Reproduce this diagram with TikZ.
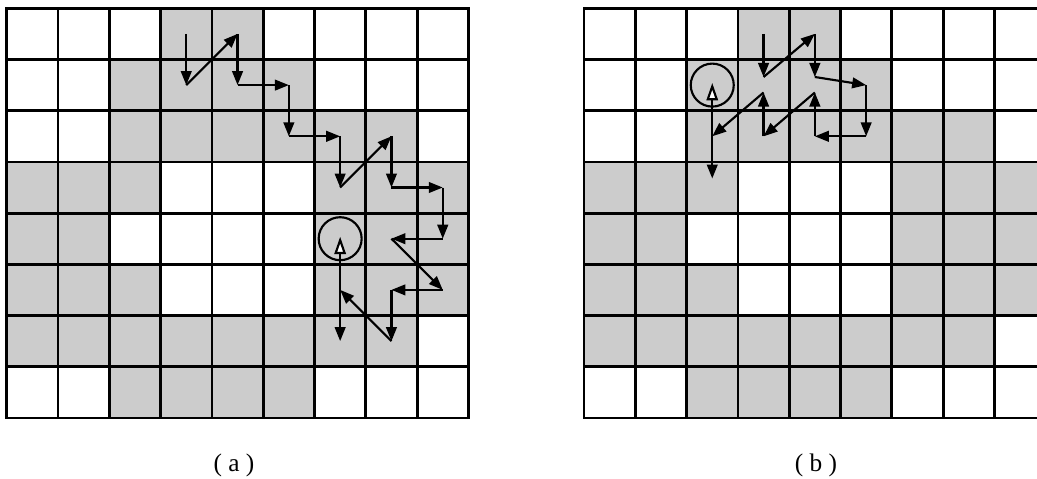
\documentclass[tikz,border=0pt]{standalone}
\usepackage{fontspec}
\setmainfont{Liberation Serif}
\usetikzlibrary{arrows.meta}
\definecolor{cellgray}{RGB}{204,204,204}
\tikzset{
  gridline/.style={line width=2.1pt, line cap=rect},
  walk/.style={line width=1.6pt, -{Triangle[length=10.5pt,width=8pt]}},
  openwalk/.style={line width=1.6pt, -{Triangle[fill=white,length=13pt,width=8.5pt]}},
  ring/.style={draw, circle, line width=1.6pt, minimum size=32.25pt, inner sep=0pt},
  caption/.style={font=\fontsize{19}{22}\selectfont, anchor=base, inner sep=0pt}
}
\begin{document}
\begin{tikzpicture}[x=0.75pt,y=-0.75pt]
\useasboundingbox (0,0) rectangle (1037,478);
\clip (0,0) rectangle (1037,478);
\fill[white] (0,0) rectangle (1037,478);
% the two grids
\foreach \ox in {6.7,584}{
  \begin{scope}[shift={(\ox,8.3)}]
    \foreach \c/\r in {3/0,4/0,
                       2/1,3/1,4/1,5/1,
                       2/2,3/2,4/2,5/2,6/2,7/2,
                       0/3,1/3,2/3,6/3,7/3,8/3,
                       0/4,1/4,6/4,7/4,8/4,
                       0/5,1/5,2/5,6/5,7/5,8/5,
                       0/6,1/6,2/6,3/6,4/6,5/6,6/6,7/6,
                       2/7,3/7,4/7,5/7}
      \fill[cellgray] ({\c*51.3},{\r*51.2}) rectangle ++(51.3,51.2);
    \foreach \i in {0,...,9}
      \draw[gridline] ({\i*51.3},0) -- ({\i*51.3},409.6);
    \foreach \j in {0,...,8}
      \draw[gridline] (0,{\j*51.2}) -- (461.7,{\j*51.2});
  \end{scope}
}
% ---------- walk (a) ----------
\coordinate (a1)  at (186.25,33.9);
\coordinate (a2)  at (186.25,85.1);
\coordinate (a3)  at (237.55,33.9);
\coordinate (a4)  at (237.55,85.1);
\coordinate (a5)  at (288.85,85.1);
\coordinate (a6)  at (288.85,136.3);
\coordinate (a7)  at (340.15,136.3);
\coordinate (a8)  at (340.15,187.5);
\coordinate (a9)  at (391.45,136.3);
\coordinate (a10) at (391.45,187.5);
\coordinate (a11) at (442.75,187.5);
\coordinate (a12) at (442.75,238.7);
\coordinate (a13) at (391.45,238.7);
\coordinate (a14) at (442.75,289.9);
\coordinate (a15) at (391.45,289.9);
\coordinate (a16) at (391.45,341.1);
\coordinate (a17) at (340.15,289.9);
\coordinate (a18) at (340.15,236.7);
\coordinate (a19) at (340.15,341.1);
\node[ring] (ca) at (340.15,238.7) {};
\draw[walk] (a1) -- (a2);
\draw[walk] (a2) -- (a3);
\draw[walk] (a3) -- (a4);
\draw[walk] (a4) -- (a5);
\draw[walk] (a5) -- (a6);
\draw[walk] (a6) -- (a7);
\draw[walk] (a7) -- (a8);
\draw[walk] (a8) -- (a9);
\draw[walk] (a9) -- (a10);
\draw[walk] (a10) -- (a11);
\draw[walk] (a11) -- (a12);
\draw[walk] (a12) -- (a13);
\draw[walk] (a13) -- (a14);
\draw[walk] (a14) -- (a15);
\draw[walk] (a15) -- (a16);
\draw[walk] (a16) -- (a17);
\draw[openwalk] (a17) -- (a18);
\draw[walk] (a17) -- (a19);
% ---------- walk (b) ----------
\coordinate (b1)  at (763.55,33.9);
\coordinate (b2)  at (763.55,77);
\coordinate (b3)  at (814.85,33.9);
\coordinate (b4)  at (814.85,77);
\coordinate (b5)  at (866.15,85.1);
\coordinate (b6)  at (866.15,136.3);
\coordinate (b7)  at (814.85,136.3);
\coordinate (b8)  at (814.85,92.5);
\coordinate (b9)  at (763.55,136.3);
\coordinate (b10) at (763.55,92.5);
\coordinate (b11) at (712.25,136.3);
\coordinate (b12) at (712.25,83);
\coordinate (b13) at (712.25,178.5);
\node[ring] (cb) at (712.25,85.1) {};
\draw[walk] (b1) -- (b2);
\draw[walk] (b2) -- (b3);
\draw[walk] (b3) -- (b4);
\draw[walk] (b4) -- (b5);
\draw[walk] (b5) -- (b6);
\draw[walk] (b6) -- (b7);
\draw[walk] (b7) -- (b8);
\draw[walk] (b8) -- (b9);
\draw[walk] (b9) -- (b10);
\draw[walk] (b10) -- (b11);
\draw[openwalk] (b11) -- (b12);
\draw[walk] (b11) -- (b13);
% captions
\node[caption] (la) at (234,471) {( a )};
\node[caption] (lb) at (816,471) {( b )};
\end{tikzpicture}
\end{document}
